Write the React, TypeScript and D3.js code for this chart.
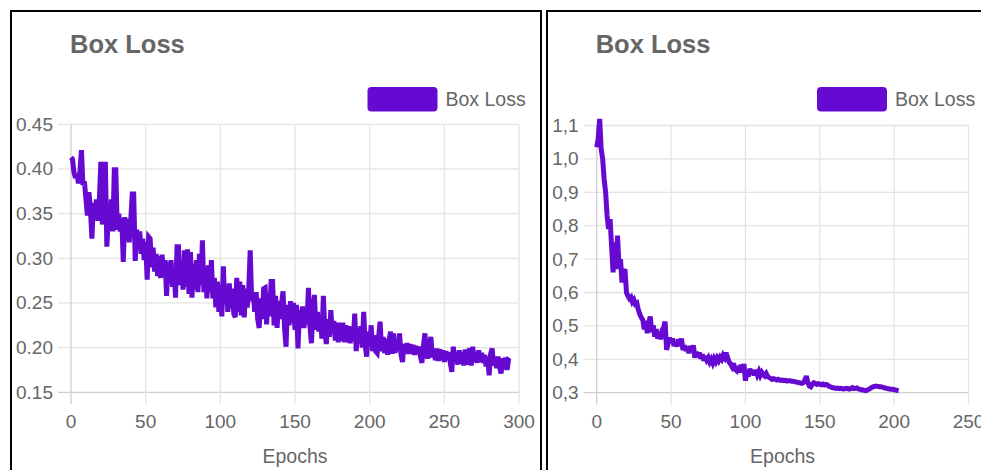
import React from 'react';
import * as d3 from 'd3';

// ---- Data ----
const TITLE = 'Box Loss';
const SERIES_NAME = 'Box Loss';
const X_LABEL = 'Epochs';

// left panel: box loss per epoch (epoch = index)
const leftLoss = [
  0.413, 0.411, 0.396, 0.390, 0.394, 0.384, 0.398, 0.421, 0.382, 0.386,
  0.366, 0.348, 0.374, 0.356, 0.322, 0.362, 0.345, 0.366, 0.342, 0.366,
  0.408, 0.338, 0.352, 0.408, 0.313, 0.346, 0.332, 0.366, 0.330, 0.399,
  0.399, 0.332, 0.350, 0.330, 0.345, 0.296, 0.346, 0.325, 0.344, 0.318,
  0.342, 0.372, 0.372, 0.297, 0.332, 0.315, 0.330, 0.305, 0.322, 0.298,
  0.318, 0.276, 0.324, 0.322, 0.290, 0.312, 0.285, 0.305, 0.280, 0.302,
  0.278, 0.304, 0.282, 0.298, 0.258, 0.296, 0.272, 0.298, 0.268, 0.290,
  0.256, 0.313, 0.313, 0.270, 0.294, 0.265, 0.309, 0.268, 0.310, 0.260,
  0.307, 0.256, 0.294, 0.265, 0.298, 0.262, 0.305, 0.270, 0.320, 0.262,
  0.290, 0.255, 0.292, 0.262, 0.298, 0.255, 0.278, 0.245, 0.274, 0.240,
  0.270, 0.235, 0.291, 0.250, 0.268, 0.240, 0.272, 0.244, 0.266, 0.238,
  0.234, 0.278, 0.240, 0.274, 0.236, 0.270, 0.234, 0.266, 0.245, 0.265,
  0.309, 0.252, 0.262, 0.240, 0.262, 0.232, 0.222, 0.255, 0.232, 0.266,
  0.267, 0.226, 0.262, 0.235, 0.274, 0.274, 0.225, 0.258, 0.222, 0.252,
  0.232, 0.250, 0.263, 0.222, 0.201, 0.248, 0.225, 0.252, 0.228, 0.250,
  0.220, 0.248, 0.199, 0.242, 0.224, 0.246, 0.222, 0.240, 0.226, 0.267,
  0.224, 0.205, 0.242, 0.259, 0.220, 0.240, 0.218, 0.236, 0.210, 0.258,
  0.218, 0.204, 0.232, 0.212, 0.242, 0.216, 0.230, 0.208, 0.228, 0.206,
  0.228, 0.208, 0.228, 0.206, 0.225, 0.206, 0.224, 0.205, 0.220, 0.208,
  0.238, 0.196, 0.222, 0.205, 0.224, 0.200, 0.240, 0.202, 0.190, 0.218,
  0.202, 0.225, 0.196, 0.214, 0.196, 0.194, 0.212, 0.229, 0.196, 0.212,
  0.194, 0.210, 0.192, 0.208, 0.218, 0.193, 0.216, 0.194, 0.208, 0.196,
  0.216, 0.192, 0.184, 0.204, 0.194, 0.205, 0.193, 0.204, 0.193, 0.203,
  0.192, 0.202, 0.193, 0.201, 0.190, 0.183, 0.202, 0.216, 0.192, 0.188,
  0.203, 0.212, 0.189, 0.199, 0.186, 0.199, 0.185, 0.198, 0.186, 0.197,
  0.184, 0.196, 0.186, 0.195, 0.183, 0.173, 0.201, 0.184, 0.195, 0.181,
  0.197, 0.182, 0.195, 0.180, 0.198, 0.181, 0.194, 0.199, 0.180, 0.201,
  0.184, 0.195, 0.183, 0.197, 0.184, 0.194, 0.183, 0.192, 0.179, 0.190,
  0.169, 0.193, 0.199, 0.180, 0.190, 0.177, 0.190, 0.178, 0.171, 0.188,
  0.176, 0.189, 0.175, 0.186, 0.185,
];

// right panel: box loss per epoch (epoch = index)
const rightLoss = [
  1.035, 1.06, 1.12, 1.03, 1.0, 0.94, 0.9, 0.83, 0.79, 0.82,
  0.74, 0.66, 0.75, 0.67, 0.77, 0.68, 0.7, 0.63, 0.66, 0.67,
  0.6, 0.59, 0.582, 0.586, 0.572, 0.578, 0.565, 0.568, 0.548, 0.535,
  0.525, 0.518, 0.49, 0.515, 0.478, 0.508, 0.528, 0.482, 0.502, 0.468,
  0.49, 0.462, 0.482, 0.46, 0.488, 0.495, 0.513, 0.428, 0.448, 0.465,
  0.45, 0.462, 0.44, 0.455, 0.438, 0.46, 0.442, 0.462, 0.428, 0.442,
  0.425, 0.438, 0.418, 0.44, 0.425, 0.442, 0.405, 0.422, 0.408, 0.42,
  0.402, 0.415, 0.396, 0.41, 0.398, 0.405, 0.392, 0.4, 0.389, 0.402,
  0.393, 0.404, 0.396, 0.406, 0.4, 0.412, 0.405, 0.42, 0.405, 0.392,
  0.386, 0.378, 0.388, 0.37, 0.366, 0.38, 0.36, 0.384, 0.366, 0.386,
  0.336, 0.362, 0.348, 0.372, 0.355, 0.367, 0.352, 0.368, 0.354, 0.364,
  0.352, 0.361, 0.354, 0.35, 0.357, 0.348, 0.345, 0.343, 0.34, 0.342,
  0.34, 0.338, 0.34, 0.338, 0.337, 0.338, 0.336, 0.337, 0.335, 0.336,
  0.336, 0.334, 0.334, 0.333, 0.332, 0.331, 0.33, 0.329, 0.328, 0.33,
  0.338, 0.35, 0.33, 0.32, 0.318, 0.326, 0.33, 0.328, 0.325, 0.327,
  0.326, 0.324, 0.326, 0.323, 0.325, 0.324, 0.32, 0.318, 0.316, 0.315,
  0.314, 0.313, 0.314, 0.312, 0.313, 0.312, 0.311, 0.312, 0.313, 0.312,
  0.311, 0.313, 0.315, 0.312, 0.313, 0.314, 0.311, 0.31, 0.309, 0.308,
  0.307, 0.306, 0.308, 0.31, 0.313, 0.316, 0.318, 0.319, 0.32, 0.319,
  0.318, 0.318, 0.317, 0.315, 0.314, 0.313, 0.312, 0.311, 0.31, 0.31,
  0.309, 0.308, 0.307, 0.306,
];

const leftXTicks = [0, 50, 100, 150, 200, 250, 300];
const leftYTicks = [0.15, 0.2, 0.25, 0.3, 0.35, 0.4, 0.45];
const rightXTicks = [0, 50, 100, 150, 200, 250];
const rightYTicks = [0.3, 0.4, 0.5, 0.6, 0.7, 0.8, 0.9, 1.0, 1.1];

const COLOR = '#660ad2';
const TEXT = '#666666';
const GRID = '#e4e4e4';
const AXIS = '#cfcfcf';
const FONT = '"Liberation Sans", Arial, Helvetica, sans-serif';

type PanelProps = {
  left: number;
  right: number;
  top: number;
  bottom: number;
  data: number[];
  xDomain: [number, number];
  yDomain: [number, number];
  xTicks: number[];
  yTicks: number[];
  yFmt: (v: number) => string;
};

function Panel({ left, right, top, bottom, data, xDomain, yDomain, xTicks, yTicks, yFmt }: PanelProps) {
  const x = d3.scaleLinear().domain(xDomain).range([left, right]);
  const y = d3.scaleLinear().domain(yDomain).range([bottom, top]);
  const line = d3
    .line<number>()
    .x((_, i) => x(i))
    .y((d) => y(d));
  const legendBoxX = right - 151.5;
  return (
    <g>
      <text x={left - 1} y={53} fontFamily={FONT} fontWeight="bold" fontSize={25.5} fill={TEXT}>
        {TITLE}
      </text>
      <rect x={legendBoxX} y={87} width={70} height={24.5} rx={4} fill={COLOR} />
      <text x={legendBoxX + 78} y={106} fontFamily={FONT} fontSize={19.5} fill={TEXT}>
        {SERIES_NAME}
      </text>
      {yTicks.map((t, i) => (
        <g key={'y' + i}>
          <line
            x1={left - 13}
            x2={right}
            y1={y(t)}
            y2={y(t)}
            stroke={i === 0 ? AXIS : GRID}
            strokeWidth={1.3}
          />
          <text
            x={left - 18}
            y={y(t)}
            textAnchor="end"
            dominantBaseline="central"
            fontFamily={FONT}
            fontSize={19}
            fill={TEXT}
          >
            {yFmt(t)}
          </text>
        </g>
      ))}
      {xTicks.map((t, i) => (
        <g key={'x' + i}>
          <line
            x1={x(t)}
            x2={x(t)}
            y1={top}
            y2={bottom + 12}
            stroke={i === 0 ? AXIS : GRID}
            strokeWidth={1.3}
          />
          <text x={x(t)} y={bottom + 35.5} textAnchor="middle" fontFamily={FONT} fontSize={19} fill={TEXT}>
            {t}
          </text>
        </g>
      ))}
      <path d={line(data) || ''} fill="none" stroke={COLOR} strokeWidth={5} strokeLinejoin="miter" strokeMiterlimit={3} />
      <text
        x={(left + right) / 2}
        y={463}
        textAnchor="middle"
        fontFamily={FONT}
        fontSize={19.5}
        fill={TEXT}
      >
        {X_LABEL}
      </text>
    </g>
  );
}

export default function App() {
  const fmtDot = (v: number) => d3.format('.2f')(v);
  const fmtComma = (v: number) => d3.format('.1f')(v).replace('.', ',');
  return (
    <svg
      width={981}
      height={470}
      style={{ position: 'absolute', left: 0, top: 0, background: '#fff' }}
    >
      <rect x={0} y={0} width={981} height={470} fill="#fff" />
      <rect x={11} y={11} width={530} height={480} fill="none" stroke="#000" strokeWidth={2} />
      <rect x={547} y={11} width={480} height={480} fill="none" stroke="#000" strokeWidth={2} />
      <Panel
        left={71}
        right={519}
        top={124.3}
        bottom={392.3}
        data={leftLoss}
        xDomain={[0, 300]}
        yDomain={[0.15, 0.45]}
        xTicks={leftXTicks}
        yTicks={leftYTicks}
        yFmt={fmtDot}
      />
      <Panel
        left={596.7}
        right={968.5}
        top={125.5}
        bottom={392.7}
        data={rightLoss}
        xDomain={[0, 250]}
        yDomain={[0.3, 1.1]}
        xTicks={rightXTicks}
        yTicks={rightYTicks}
        yFmt={fmtComma}
      />
    </svg>
  );
}
